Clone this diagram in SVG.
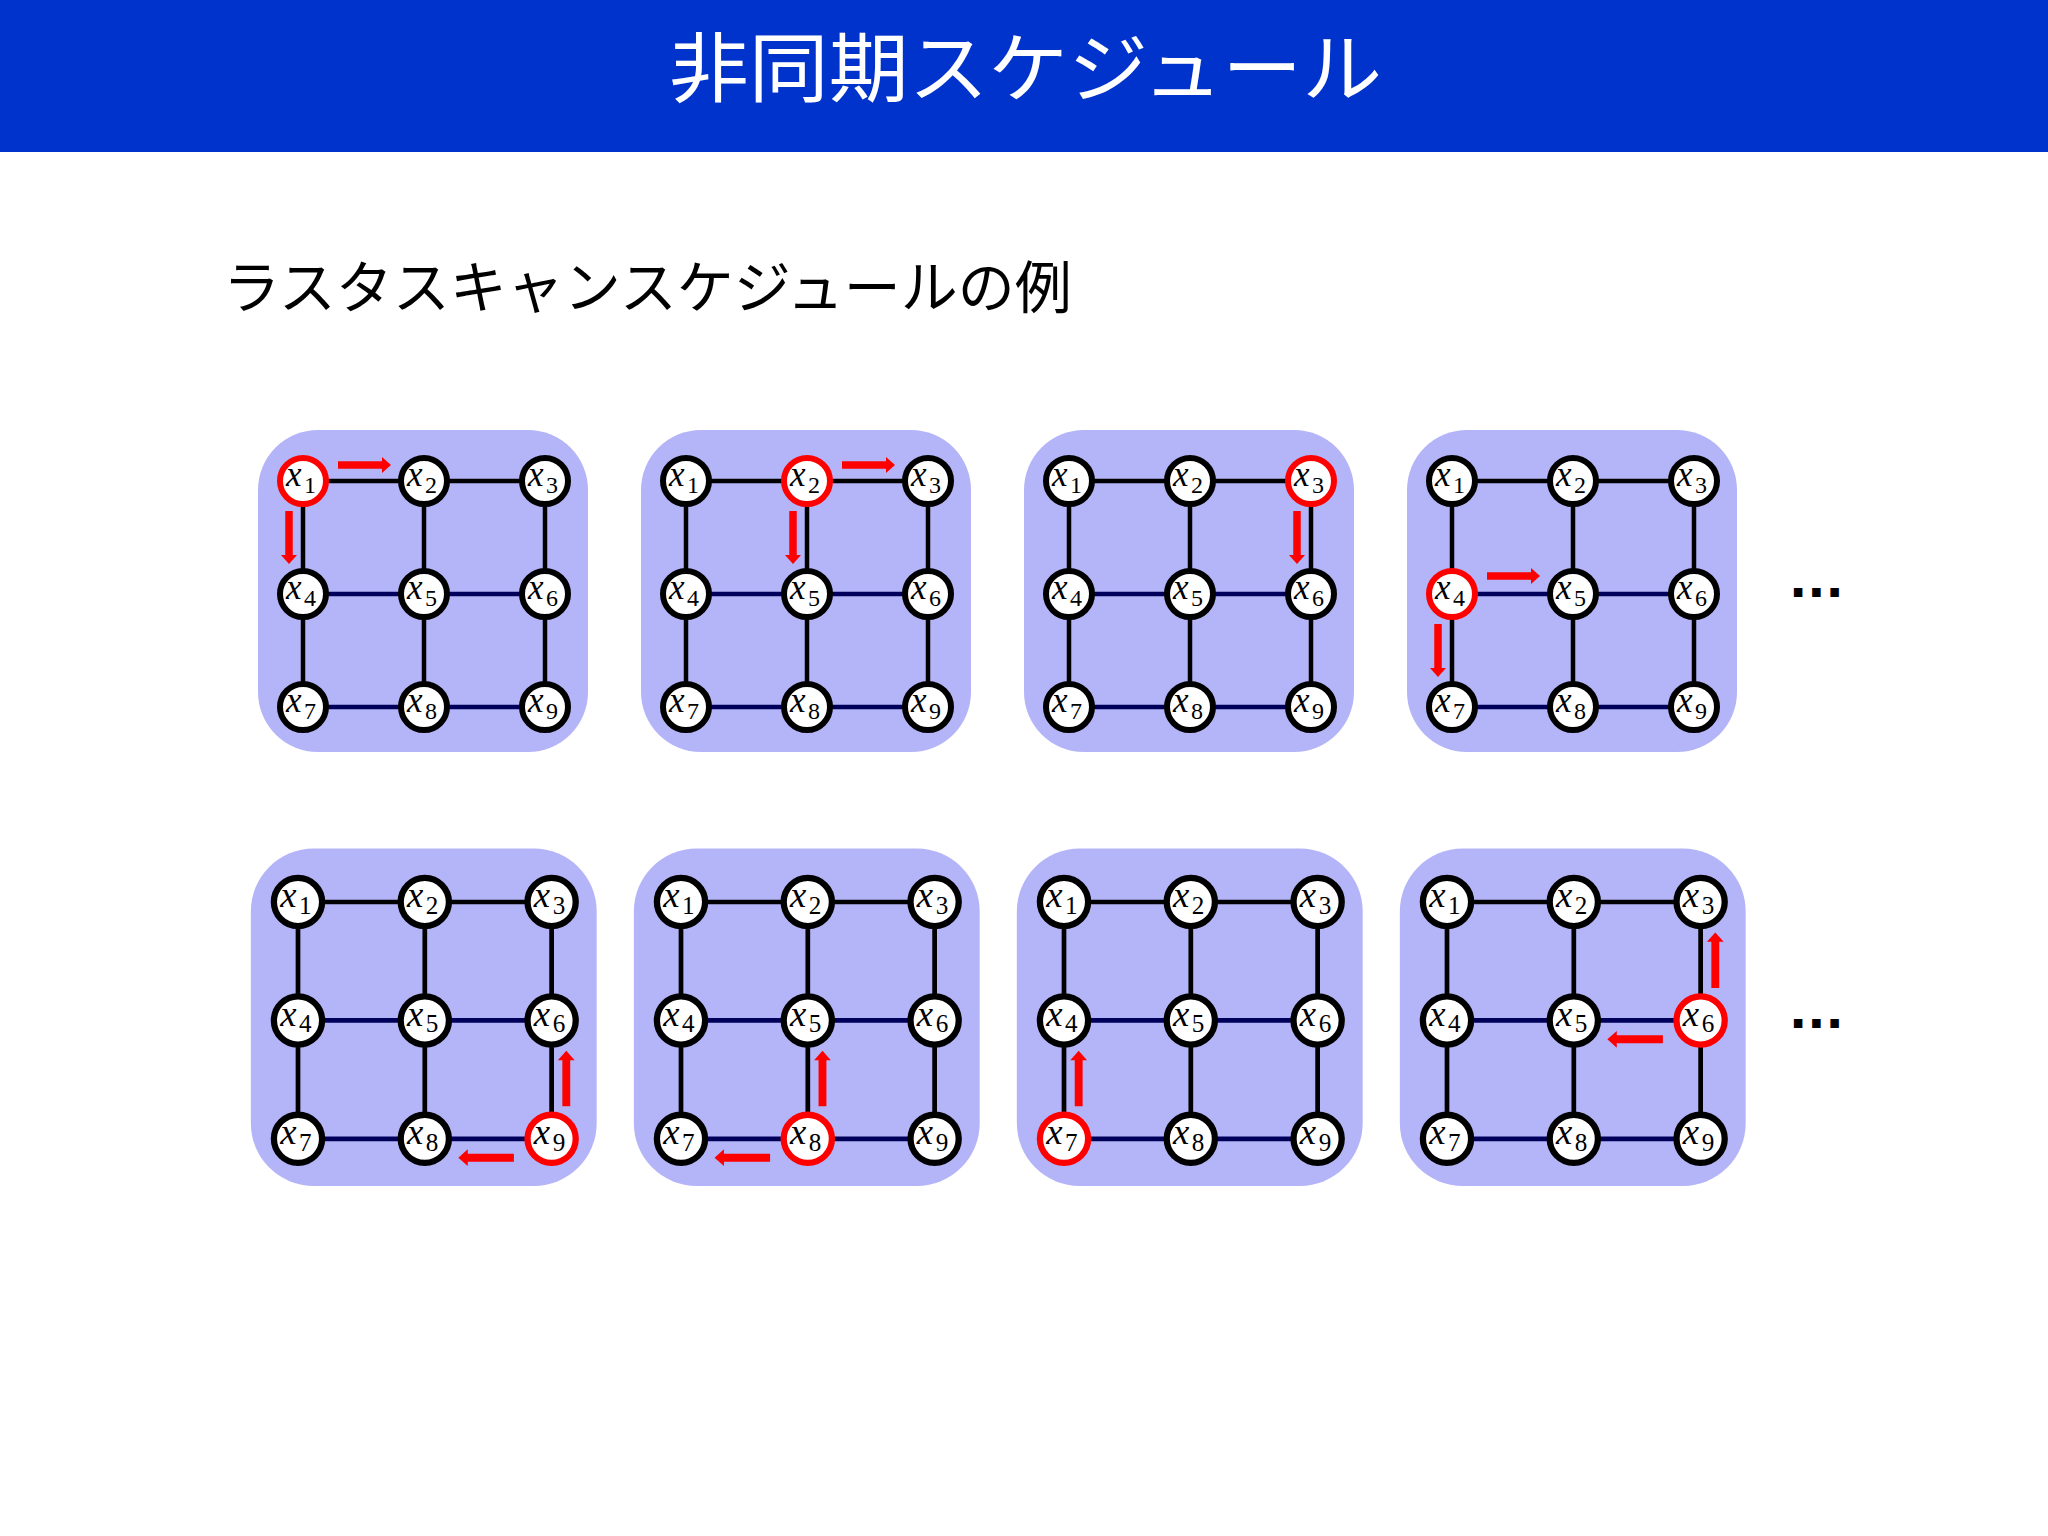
<svg xmlns="http://www.w3.org/2000/svg" xmlns:xlink="http://www.w3.org/1999/xlink" width="2048" height="1536" viewBox="0 0 2048 1536">
<style>
.panel{fill:#B4B4F8}
.e{stroke:#000;stroke-width:4.5}
.en{stroke:#00005A;stroke-width:4.5}
.node circle{fill:#fff;stroke:#000;stroke-width:6}
.node.red circle{stroke:#F00}
.v{font-family:"Liberation Serif",serif;font-style:italic;font-size:35px;fill:#000}
.s{font-family:"Liberation Serif",serif;font-size:24px;fill:#000}
.arr{fill:#F00}
.title{font-family:"Noto Sans CJK JP","Noto Sans",sans-serif;font-size:76px;fill:#fff}
.sub{font-family:"Noto Sans CJK JP","Noto Sans",sans-serif;font-size:57px;fill:#000}
.dots{font-family:"DejaVu Sans",sans-serif;font-weight:bold;font-size:48px;fill:#000}
</style>
<defs>
<path id="arrow" d="M0,-3.75H44V-8L53,0L44,8V3.75H0Z"/>
</defs>
<rect x="0" y="0" width="2048" height="1536" fill="#fff"/>
<rect x="0" y="0" width="2048" height="152" fill="#0033CC"/>
<text class="title" x="669" y="96" textLength="713" lengthAdjust="spacingAndGlyphs">非同期スケジュール</text>
<text class="sub" x="223" y="308">ラスタスキャンスケジュールの例</text>

<!-- Row 1 Panel 1 -->
<g id="panel1" transform="translate(303,481)">
<rect class="panel" x="-45" y="-51" width="330" height="322" rx="60"/>
<g id="panel1-connectors">
<line class="e" x1="0" y1="0" x2="121" y2="0"/><line class="e" x1="121" y1="0" x2="242" y2="0"/>
<line class="en" x1="0" y1="113" x2="121" y2="113"/><line class="en" x1="121" y1="113" x2="242" y2="113"/>
<line class="en" x1="0" y1="226" x2="121" y2="226"/><line class="en" x1="121" y1="226" x2="242" y2="226"/>
<line class="e" x1="0" y1="0" x2="0" y2="113"/><line class="e" x1="0" y1="113" x2="0" y2="226"/>
<line class="e" x1="121" y1="0" x2="121" y2="113"/><line class="e" x1="121" y1="113" x2="121" y2="226"/>
<line class="e" x1="242" y1="0" x2="242" y2="113"/><line class="e" x1="242" y1="113" x2="242" y2="226"/>
</g>
<g id="panel1-x1" class="node red"><circle r="23"/><text class="v" x="-17" y="5">x</text><text class="s" x="1" y="11.5">1</text></g>
<g id="panel1-x2" class="node" transform="translate(121,0)"><circle r="23"/><text class="v" x="-17" y="5">x</text><text class="s" x="1" y="11.5">2</text></g>
<g id="panel1-x3" class="node" transform="translate(242,0)"><circle r="23"/><text class="v" x="-17" y="5">x</text><text class="s" x="1" y="11.5">3</text></g>
<g id="panel1-x4" class="node" transform="translate(0,113)"><circle r="23"/><text class="v" x="-17" y="5">x</text><text class="s" x="1" y="11.5">4</text></g>
<g id="panel1-x5" class="node" transform="translate(121,113)"><circle r="23"/><text class="v" x="-17" y="5">x</text><text class="s" x="1" y="11.5">5</text></g>
<g id="panel1-x6" class="node" transform="translate(242,113)"><circle r="23"/><text class="v" x="-17" y="5">x</text><text class="s" x="1" y="11.5">6</text></g>
<g id="panel1-x7" class="node" transform="translate(0,226)"><circle r="23"/><text class="v" x="-17" y="5">x</text><text class="s" x="1" y="11.5">7</text></g>
<g id="panel1-x8" class="node" transform="translate(121,226)"><circle r="23"/><text class="v" x="-17" y="5">x</text><text class="s" x="1" y="11.5">8</text></g>
<g id="panel1-x9" class="node" transform="translate(242,226)"><circle r="23"/><text class="v" x="-17" y="5">x</text><text class="s" x="1" y="11.5">9</text></g>
<g id="panel1-arrows" class="arr">
<use xlink:href="#arrow" transform="translate(35,-16)"/>
<use xlink:href="#arrow" transform="translate(-14,30) rotate(90)"/>
</g>
</g>

<!-- Row 1 Panel 2 -->
<g id="panel2" transform="translate(686,481)">
<rect class="panel" x="-45" y="-51" width="330" height="322" rx="60"/>
<g id="panel2-connectors">
<line class="e" x1="0" y1="0" x2="121" y2="0"/><line class="e" x1="121" y1="0" x2="242" y2="0"/>
<line class="en" x1="0" y1="113" x2="121" y2="113"/><line class="en" x1="121" y1="113" x2="242" y2="113"/>
<line class="en" x1="0" y1="226" x2="121" y2="226"/><line class="en" x1="121" y1="226" x2="242" y2="226"/>
<line class="e" x1="0" y1="0" x2="0" y2="113"/><line class="e" x1="0" y1="113" x2="0" y2="226"/>
<line class="e" x1="121" y1="0" x2="121" y2="113"/><line class="e" x1="121" y1="113" x2="121" y2="226"/>
<line class="e" x1="242" y1="0" x2="242" y2="113"/><line class="e" x1="242" y1="113" x2="242" y2="226"/>
</g>
<g id="panel2-x1" class="node"><circle r="23"/><text class="v" x="-17" y="5">x</text><text class="s" x="1" y="11.5">1</text></g>
<g id="panel2-x2" class="node red" transform="translate(121,0)"><circle r="23"/><text class="v" x="-17" y="5">x</text><text class="s" x="1" y="11.5">2</text></g>
<g id="panel2-x3" class="node" transform="translate(242,0)"><circle r="23"/><text class="v" x="-17" y="5">x</text><text class="s" x="1" y="11.5">3</text></g>
<g id="panel2-x4" class="node" transform="translate(0,113)"><circle r="23"/><text class="v" x="-17" y="5">x</text><text class="s" x="1" y="11.5">4</text></g>
<g id="panel2-x5" class="node" transform="translate(121,113)"><circle r="23"/><text class="v" x="-17" y="5">x</text><text class="s" x="1" y="11.5">5</text></g>
<g id="panel2-x6" class="node" transform="translate(242,113)"><circle r="23"/><text class="v" x="-17" y="5">x</text><text class="s" x="1" y="11.5">6</text></g>
<g id="panel2-x7" class="node" transform="translate(0,226)"><circle r="23"/><text class="v" x="-17" y="5">x</text><text class="s" x="1" y="11.5">7</text></g>
<g id="panel2-x8" class="node" transform="translate(121,226)"><circle r="23"/><text class="v" x="-17" y="5">x</text><text class="s" x="1" y="11.5">8</text></g>
<g id="panel2-x9" class="node" transform="translate(242,226)"><circle r="23"/><text class="v" x="-17" y="5">x</text><text class="s" x="1" y="11.5">9</text></g>
<g id="panel2-arrows" class="arr">
<use xlink:href="#arrow" transform="translate(156,-16)"/>
<use xlink:href="#arrow" transform="translate(107,30) rotate(90)"/>
</g>
</g>

<!-- Row 1 Panel 3 -->
<g id="panel3" transform="translate(1069,481)">
<rect class="panel" x="-45" y="-51" width="330" height="322" rx="60"/>
<g id="panel3-connectors">
<line class="e" x1="0" y1="0" x2="121" y2="0"/><line class="e" x1="121" y1="0" x2="242" y2="0"/>
<line class="en" x1="0" y1="113" x2="121" y2="113"/><line class="en" x1="121" y1="113" x2="242" y2="113"/>
<line class="en" x1="0" y1="226" x2="121" y2="226"/><line class="en" x1="121" y1="226" x2="242" y2="226"/>
<line class="e" x1="0" y1="0" x2="0" y2="113"/><line class="e" x1="0" y1="113" x2="0" y2="226"/>
<line class="e" x1="121" y1="0" x2="121" y2="113"/><line class="e" x1="121" y1="113" x2="121" y2="226"/>
<line class="e" x1="242" y1="0" x2="242" y2="113"/><line class="e" x1="242" y1="113" x2="242" y2="226"/>
</g>
<g id="panel3-x1" class="node"><circle r="23"/><text class="v" x="-17" y="5">x</text><text class="s" x="1" y="11.5">1</text></g>
<g id="panel3-x2" class="node" transform="translate(121,0)"><circle r="23"/><text class="v" x="-17" y="5">x</text><text class="s" x="1" y="11.5">2</text></g>
<g id="panel3-x3" class="node red" transform="translate(242,0)"><circle r="23"/><text class="v" x="-17" y="5">x</text><text class="s" x="1" y="11.5">3</text></g>
<g id="panel3-x4" class="node" transform="translate(0,113)"><circle r="23"/><text class="v" x="-17" y="5">x</text><text class="s" x="1" y="11.5">4</text></g>
<g id="panel3-x5" class="node" transform="translate(121,113)"><circle r="23"/><text class="v" x="-17" y="5">x</text><text class="s" x="1" y="11.5">5</text></g>
<g id="panel3-x6" class="node" transform="translate(242,113)"><circle r="23"/><text class="v" x="-17" y="5">x</text><text class="s" x="1" y="11.5">6</text></g>
<g id="panel3-x7" class="node" transform="translate(0,226)"><circle r="23"/><text class="v" x="-17" y="5">x</text><text class="s" x="1" y="11.5">7</text></g>
<g id="panel3-x8" class="node" transform="translate(121,226)"><circle r="23"/><text class="v" x="-17" y="5">x</text><text class="s" x="1" y="11.5">8</text></g>
<g id="panel3-x9" class="node" transform="translate(242,226)"><circle r="23"/><text class="v" x="-17" y="5">x</text><text class="s" x="1" y="11.5">9</text></g>
<g id="panel3-arrows" class="arr">
<use xlink:href="#arrow" transform="translate(228,30) rotate(90)"/>
</g>
</g>

<!-- Row 1 Panel 4 -->
<g id="panel4" transform="translate(1452,481)">
<rect class="panel" x="-45" y="-51" width="330" height="322" rx="60"/>
<g id="panel4-connectors">
<line class="e" x1="0" y1="0" x2="121" y2="0"/><line class="e" x1="121" y1="0" x2="242" y2="0"/>
<line class="en" x1="0" y1="113" x2="121" y2="113"/><line class="en" x1="121" y1="113" x2="242" y2="113"/>
<line class="en" x1="0" y1="226" x2="121" y2="226"/><line class="en" x1="121" y1="226" x2="242" y2="226"/>
<line class="e" x1="0" y1="0" x2="0" y2="113"/><line class="e" x1="0" y1="113" x2="0" y2="226"/>
<line class="e" x1="121" y1="0" x2="121" y2="113"/><line class="e" x1="121" y1="113" x2="121" y2="226"/>
<line class="e" x1="242" y1="0" x2="242" y2="113"/><line class="e" x1="242" y1="113" x2="242" y2="226"/>
</g>
<g id="panel4-x1" class="node"><circle r="23"/><text class="v" x="-17" y="5">x</text><text class="s" x="1" y="11.5">1</text></g>
<g id="panel4-x2" class="node" transform="translate(121,0)"><circle r="23"/><text class="v" x="-17" y="5">x</text><text class="s" x="1" y="11.5">2</text></g>
<g id="panel4-x3" class="node" transform="translate(242,0)"><circle r="23"/><text class="v" x="-17" y="5">x</text><text class="s" x="1" y="11.5">3</text></g>
<g id="panel4-x4" class="node red" transform="translate(0,113)"><circle r="23"/><text class="v" x="-17" y="5">x</text><text class="s" x="1" y="11.5">4</text></g>
<g id="panel4-x5" class="node" transform="translate(121,113)"><circle r="23"/><text class="v" x="-17" y="5">x</text><text class="s" x="1" y="11.5">5</text></g>
<g id="panel4-x6" class="node" transform="translate(242,113)"><circle r="23"/><text class="v" x="-17" y="5">x</text><text class="s" x="1" y="11.5">6</text></g>
<g id="panel4-x7" class="node" transform="translate(0,226)"><circle r="23"/><text class="v" x="-17" y="5">x</text><text class="s" x="1" y="11.5">7</text></g>
<g id="panel4-x8" class="node" transform="translate(121,226)"><circle r="23"/><text class="v" x="-17" y="5">x</text><text class="s" x="1" y="11.5">8</text></g>
<g id="panel4-x9" class="node" transform="translate(242,226)"><circle r="23"/><text class="v" x="-17" y="5">x</text><text class="s" x="1" y="11.5">9</text></g>
<g id="panel4-arrows" class="arr">
<use xlink:href="#arrow" transform="translate(35,95)"/>
<use xlink:href="#arrow" transform="translate(-14,143) rotate(90)"/>
</g>
</g>
<text class="dots" x="1789" y="597">...</text>

<!-- Row 2 Panel 5 -->
<g id="panel5" transform="translate(298,902) scale(1.048)">
<rect class="panel" x="-45" y="-51" width="330" height="322" rx="60"/>
<g id="panel5-connectors">
<line class="e" x1="0" y1="0" x2="121" y2="0"/><line class="e" x1="121" y1="0" x2="242" y2="0"/>
<line class="en" x1="0" y1="113" x2="121" y2="113"/><line class="en" x1="121" y1="113" x2="242" y2="113"/>
<line class="en" x1="0" y1="226" x2="121" y2="226"/><line class="en" x1="121" y1="226" x2="242" y2="226"/>
<line class="e" x1="0" y1="0" x2="0" y2="113"/><line class="e" x1="0" y1="113" x2="0" y2="226"/>
<line class="e" x1="121" y1="0" x2="121" y2="113"/><line class="e" x1="121" y1="113" x2="121" y2="226"/>
<line class="e" x1="242" y1="0" x2="242" y2="113"/><line class="e" x1="242" y1="113" x2="242" y2="226"/>
</g>
<g id="panel5-x1" class="node"><circle r="23"/><text class="v" x="-17" y="5">x</text><text class="s" x="1" y="11.5">1</text></g>
<g id="panel5-x2" class="node" transform="translate(121,0)"><circle r="23"/><text class="v" x="-17" y="5">x</text><text class="s" x="1" y="11.5">2</text></g>
<g id="panel5-x3" class="node" transform="translate(242,0)"><circle r="23"/><text class="v" x="-17" y="5">x</text><text class="s" x="1" y="11.5">3</text></g>
<g id="panel5-x4" class="node" transform="translate(0,113)"><circle r="23"/><text class="v" x="-17" y="5">x</text><text class="s" x="1" y="11.5">4</text></g>
<g id="panel5-x5" class="node" transform="translate(121,113)"><circle r="23"/><text class="v" x="-17" y="5">x</text><text class="s" x="1" y="11.5">5</text></g>
<g id="panel5-x6" class="node" transform="translate(242,113)"><circle r="23"/><text class="v" x="-17" y="5">x</text><text class="s" x="1" y="11.5">6</text></g>
<g id="panel5-x7" class="node" transform="translate(0,226)"><circle r="23"/><text class="v" x="-17" y="5">x</text><text class="s" x="1" y="11.5">7</text></g>
<g id="panel5-x8" class="node" transform="translate(121,226)"><circle r="23"/><text class="v" x="-17" y="5">x</text><text class="s" x="1" y="11.5">8</text></g>
<g id="panel5-x9" class="node red" transform="translate(242,226)"><circle r="23"/><text class="v" x="-17" y="5">x</text><text class="s" x="1" y="11.5">9</text></g>
<g id="panel5-arrows" class="arr">
<use xlink:href="#arrow" transform="translate(256,195) rotate(-90)"/>
<use xlink:href="#arrow" transform="translate(206,244) rotate(180)"/>
</g>
</g>

<!-- Row 2 Panel 6 -->
<g id="panel6" transform="translate(681,902) scale(1.048)">
<rect class="panel" x="-45" y="-51" width="330" height="322" rx="60"/>
<g id="panel6-connectors">
<line class="e" x1="0" y1="0" x2="121" y2="0"/><line class="e" x1="121" y1="0" x2="242" y2="0"/>
<line class="en" x1="0" y1="113" x2="121" y2="113"/><line class="en" x1="121" y1="113" x2="242" y2="113"/>
<line class="en" x1="0" y1="226" x2="121" y2="226"/><line class="en" x1="121" y1="226" x2="242" y2="226"/>
<line class="e" x1="0" y1="0" x2="0" y2="113"/><line class="e" x1="0" y1="113" x2="0" y2="226"/>
<line class="e" x1="121" y1="0" x2="121" y2="113"/><line class="e" x1="121" y1="113" x2="121" y2="226"/>
<line class="e" x1="242" y1="0" x2="242" y2="113"/><line class="e" x1="242" y1="113" x2="242" y2="226"/>
</g>
<g id="panel6-x1" class="node"><circle r="23"/><text class="v" x="-17" y="5">x</text><text class="s" x="1" y="11.5">1</text></g>
<g id="panel6-x2" class="node" transform="translate(121,0)"><circle r="23"/><text class="v" x="-17" y="5">x</text><text class="s" x="1" y="11.5">2</text></g>
<g id="panel6-x3" class="node" transform="translate(242,0)"><circle r="23"/><text class="v" x="-17" y="5">x</text><text class="s" x="1" y="11.5">3</text></g>
<g id="panel6-x4" class="node" transform="translate(0,113)"><circle r="23"/><text class="v" x="-17" y="5">x</text><text class="s" x="1" y="11.5">4</text></g>
<g id="panel6-x5" class="node" transform="translate(121,113)"><circle r="23"/><text class="v" x="-17" y="5">x</text><text class="s" x="1" y="11.5">5</text></g>
<g id="panel6-x6" class="node" transform="translate(242,113)"><circle r="23"/><text class="v" x="-17" y="5">x</text><text class="s" x="1" y="11.5">6</text></g>
<g id="panel6-x7" class="node" transform="translate(0,226)"><circle r="23"/><text class="v" x="-17" y="5">x</text><text class="s" x="1" y="11.5">7</text></g>
<g id="panel6-x8" class="node red" transform="translate(121,226)"><circle r="23"/><text class="v" x="-17" y="5">x</text><text class="s" x="1" y="11.5">8</text></g>
<g id="panel6-x9" class="node" transform="translate(242,226)"><circle r="23"/><text class="v" x="-17" y="5">x</text><text class="s" x="1" y="11.5">9</text></g>
<g id="panel6-arrows" class="arr">
<use xlink:href="#arrow" transform="translate(135,195) rotate(-90)"/>
<use xlink:href="#arrow" transform="translate(85,244) rotate(180)"/>
</g>
</g>

<!-- Row 2 Panel 7 -->
<g id="panel7" transform="translate(1064,902) scale(1.048)">
<rect class="panel" x="-45" y="-51" width="330" height="322" rx="60"/>
<g id="panel7-connectors">
<line class="e" x1="0" y1="0" x2="121" y2="0"/><line class="e" x1="121" y1="0" x2="242" y2="0"/>
<line class="en" x1="0" y1="113" x2="121" y2="113"/><line class="en" x1="121" y1="113" x2="242" y2="113"/>
<line class="en" x1="0" y1="226" x2="121" y2="226"/><line class="en" x1="121" y1="226" x2="242" y2="226"/>
<line class="e" x1="0" y1="0" x2="0" y2="113"/><line class="e" x1="0" y1="113" x2="0" y2="226"/>
<line class="e" x1="121" y1="0" x2="121" y2="113"/><line class="e" x1="121" y1="113" x2="121" y2="226"/>
<line class="e" x1="242" y1="0" x2="242" y2="113"/><line class="e" x1="242" y1="113" x2="242" y2="226"/>
</g>
<g id="panel7-x1" class="node"><circle r="23"/><text class="v" x="-17" y="5">x</text><text class="s" x="1" y="11.5">1</text></g>
<g id="panel7-x2" class="node" transform="translate(121,0)"><circle r="23"/><text class="v" x="-17" y="5">x</text><text class="s" x="1" y="11.5">2</text></g>
<g id="panel7-x3" class="node" transform="translate(242,0)"><circle r="23"/><text class="v" x="-17" y="5">x</text><text class="s" x="1" y="11.5">3</text></g>
<g id="panel7-x4" class="node" transform="translate(0,113)"><circle r="23"/><text class="v" x="-17" y="5">x</text><text class="s" x="1" y="11.5">4</text></g>
<g id="panel7-x5" class="node" transform="translate(121,113)"><circle r="23"/><text class="v" x="-17" y="5">x</text><text class="s" x="1" y="11.5">5</text></g>
<g id="panel7-x6" class="node" transform="translate(242,113)"><circle r="23"/><text class="v" x="-17" y="5">x</text><text class="s" x="1" y="11.5">6</text></g>
<g id="panel7-x7" class="node red" transform="translate(0,226)"><circle r="23"/><text class="v" x="-17" y="5">x</text><text class="s" x="1" y="11.5">7</text></g>
<g id="panel7-x8" class="node" transform="translate(121,226)"><circle r="23"/><text class="v" x="-17" y="5">x</text><text class="s" x="1" y="11.5">8</text></g>
<g id="panel7-x9" class="node" transform="translate(242,226)"><circle r="23"/><text class="v" x="-17" y="5">x</text><text class="s" x="1" y="11.5">9</text></g>
<g id="panel7-arrows" class="arr">
<use xlink:href="#arrow" transform="translate(14,195) rotate(-90)"/>
</g>
</g>

<!-- Row 2 Panel 8 -->
<g id="panel8" transform="translate(1447,902) scale(1.048)">
<rect class="panel" x="-45" y="-51" width="330" height="322" rx="60"/>
<g id="panel8-connectors">
<line class="e" x1="0" y1="0" x2="121" y2="0"/><line class="e" x1="121" y1="0" x2="242" y2="0"/>
<line class="en" x1="0" y1="113" x2="121" y2="113"/><line class="en" x1="121" y1="113" x2="242" y2="113"/>
<line class="en" x1="0" y1="226" x2="121" y2="226"/><line class="en" x1="121" y1="226" x2="242" y2="226"/>
<line class="e" x1="0" y1="0" x2="0" y2="113"/><line class="e" x1="0" y1="113" x2="0" y2="226"/>
<line class="e" x1="121" y1="0" x2="121" y2="113"/><line class="e" x1="121" y1="113" x2="121" y2="226"/>
<line class="e" x1="242" y1="0" x2="242" y2="113"/><line class="e" x1="242" y1="113" x2="242" y2="226"/>
</g>
<g id="panel8-x1" class="node"><circle r="23"/><text class="v" x="-17" y="5">x</text><text class="s" x="1" y="11.5">1</text></g>
<g id="panel8-x2" class="node" transform="translate(121,0)"><circle r="23"/><text class="v" x="-17" y="5">x</text><text class="s" x="1" y="11.5">2</text></g>
<g id="panel8-x3" class="node" transform="translate(242,0)"><circle r="23"/><text class="v" x="-17" y="5">x</text><text class="s" x="1" y="11.5">3</text></g>
<g id="panel8-x4" class="node" transform="translate(0,113)"><circle r="23"/><text class="v" x="-17" y="5">x</text><text class="s" x="1" y="11.5">4</text></g>
<g id="panel8-x5" class="node" transform="translate(121,113)"><circle r="23"/><text class="v" x="-17" y="5">x</text><text class="s" x="1" y="11.5">5</text></g>
<g id="panel8-x6" class="node red" transform="translate(242,113)"><circle r="23"/><text class="v" x="-17" y="5">x</text><text class="s" x="1" y="11.5">6</text></g>
<g id="panel8-x7" class="node" transform="translate(0,226)"><circle r="23"/><text class="v" x="-17" y="5">x</text><text class="s" x="1" y="11.5">7</text></g>
<g id="panel8-x8" class="node" transform="translate(121,226)"><circle r="23"/><text class="v" x="-17" y="5">x</text><text class="s" x="1" y="11.5">8</text></g>
<g id="panel8-x9" class="node" transform="translate(242,226)"><circle r="23"/><text class="v" x="-17" y="5">x</text><text class="s" x="1" y="11.5">9</text></g>
<g id="panel8-arrows" class="arr">
<use xlink:href="#arrow" transform="translate(256,82) rotate(-90)"/>
<use xlink:href="#arrow" transform="translate(206,131) rotate(180)"/>
</g>
</g>
<text class="dots" x="1789" y="1028">...</text>
</svg>
